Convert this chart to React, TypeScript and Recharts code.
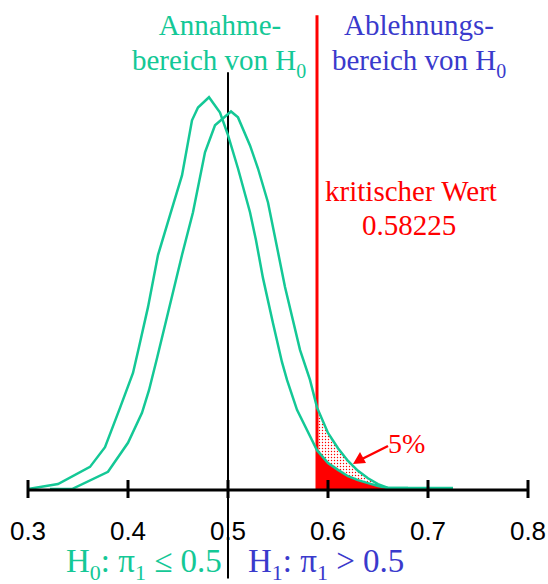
import React from "react";
import { ComposedChart, Line, Area, XAxis, YAxis, ReferenceLine } from "recharts";

// curve under H0 (left) and under H1 (right), x = sample proportion
const aX = [0.3, 0.33, 0.362, 0.377, 0.392, 0.405, 0.411, 0.42, 0.43, 0.442, 0.454, 0.464, 0.47, 0.481, 0.492, 0.5, 0.51, 0.522, 0.528, 0.535, 0.545, 0.554, 0.559, 0.569, 0.589, 0.6, 0.61, 0.62, 0.63, 0.64, 0.65, 0.66, 0.68];
const aY = [0.02, 0.12, 0.47, 0.87, 1.67, 2.38, 2.91, 3.72, 4.78, 5.59, 6.4, 7.52, 7.78, 7.99, 7.68, 7.22, 6.54, 5.65, 5.08, 4.31, 3.39, 2.6, 2.24, 1.63, 0.81, 0.55, 0.41, 0.28, 0.2, 0.14, 0.08, 0.04, 0.04];
const bX = [0.322, 0.344, 0.38, 0.4, 0.414, 0.421, 0.429, 0.439, 0.454, 0.465, 0.477, 0.487, 0.503, 0.51, 0.522, 0.53, 0.54, 0.55, 0.557, 0.572, 0.582, 0.589, 0.6, 0.61, 0.62, 0.63, 0.64, 0.65, 0.66, 0.69, 0.725];
const bY = [0.02, 0.02, 0.37, 0.96, 1.57, 2.03, 2.68, 3.52, 4.78, 5.65, 6.87, 7.42, 7.7, 7.58, 7.01, 6.54, 5.85, 4.84, 4.13, 2.85, 2.24, 1.68, 1.16, 0.85, 0.59, 0.39, 0.24, 0.12, 0.04, 0.04, 0.04];

const ticks = [0.3, 0.4, 0.5, 0.6, 0.7, 0.8];
const crit = 0.589; // drawn position of kritischer Wert

const GREEN = "#14c896";
const BLUE = "#3a3acc";
const RED = "#ff0000";

const xs = Array.from(new Set([...aX, ...bX])).sort((p, q) => p - q);
const rows = xs.map((x) => {
  const ia = aX.indexOf(x);
  const ib = bX.indexOf(x);
  const a = ia >= 0 ? aY[ia] : null;
  const b = ib >= 0 ? bY[ib] : null;
  const tail = x >= crit && a != null && b != null;
  return { x, a, b, fill: tail ? a : null, band: tail ? [a, b] : null };
});

const Tick = (props: any) => {
  const { x, y, payload } = props;
  return (
    <g>
      <line x1={x} x2={x} y1={y - 10} y2={y + 8} stroke="#000" strokeWidth={3} />
      <text x={x} y={y + 50} textAnchor="middle" fontFamily="Liberation Sans, Arial" fontSize={26} fill="#000">
        {payload.value}
      </text>
    </g>
  );
};

const serif = "Liberation Serif, Times New Roman, serif";

const App: React.FC = () => {
  return (
    <div style={{ position: "absolute", left: 0, top: 0 }}>
      <ComposedChart width={548} height={584} data={rows} margin={{ top: 23, right: 20, bottom: 34, left: 28 }}>
        <defs>
          <pattern id="dots" width={3} height={3} patternUnits="userSpaceOnUse">
            <rect width={3} height={3} fill="#fff" />
            <circle cx={1.5} cy={1.5} r={0.7} fill={RED} />
          </pattern>
        </defs>
        <XAxis
          dataKey="x"
          type="number"
          domain={[0.3, 0.8]}
          ticks={ticks}
          height={60}
          tickSize={0}
          tickMargin={0}
          tick={<Tick />}
          axisLine={{ stroke: "#000", strokeWidth: 3 }}
          allowDataOverflow
        />
        <YAxis hide domain={[0, 9.5]} />
        <Area dataKey="band" stroke="none" fill="url(#dots)" fillOpacity={1} isAnimationActive={false} />
        <Area dataKey="fill" baseValue={0} stroke="none" fill={RED} fillOpacity={1} isAnimationActive={false} />
        <ReferenceLine
          segment={[{ x: 0.5, y: -1.8 }, { x: 0.5, y: 8.5 }]}
          stroke="#000"
          strokeWidth={2}
          ifOverflow="visible"
        />
        <ReferenceLine
          segment={[{ x: crit, y: 0 }, { x: crit, y: 9.66 }]}
          stroke={RED}
          strokeWidth={3}
          ifOverflow="visible"
        />
        <Line dataKey="a" type="linear" stroke={GREEN} strokeWidth={2.5} dot={false} connectNulls isAnimationActive={false} />
        <Line dataKey="b" type="linear" stroke={GREEN} strokeWidth={2.5} dot={false} connectNulls isAnimationActive={false} />

        <g fontFamily={serif} fontSize={29}>
          <text x={220} y={35} textAnchor="middle" fill={GREEN}>Annahme-</text>
          <text x={132} y={70} fill={GREEN}>
            bereich von H<tspan fontSize={20} dy={8}>0</tspan>
          </text>
          <text x={419} y={35} textAnchor="middle" fill={BLUE}>Ablehnungs-</text>
          <text x={332} y={70} fill={BLUE}>
            bereich von H<tspan fontSize={20} dy={8}>0</tspan>
          </text>
          <text x={411} y={201} textAnchor="middle" fill={RED}>kritischer Wert</text>
          <text x={409} y={235} textAnchor="middle" fill={RED}>0.58225</text>
          <text x={388} y={453} fontSize={28} fill={RED}>5%</text>
          <text x={66} y={572} fontSize={33} fill={GREEN}>
            H<tspan fontSize={22} dy={8}>0</tspan>
            <tspan dy={-8}>: π</tspan>
            <tspan fontSize={22} dy={8}>1</tspan>
            <tspan dy={-8}> ≤ 0.5</tspan>
          </text>
          <text x={248} y={572} fontSize={33} fill={BLUE}>
            H<tspan fontSize={22} dy={8}>1</tspan>
            <tspan dy={-8}>: π</tspan>
            <tspan fontSize={22} dy={8}>1</tspan>
            <tspan dy={-8}> &gt; 0.5</tspan>
          </text>
        </g>
        <g>
          <line x1={388} y1={446} x2={362} y2={459} stroke={RED} strokeWidth={2.5} />
          <polygon points="353,464 360,452 366,463" fill={RED} />
        </g>
      </ComposedChart>
    </div>
  );
};

export default App;
